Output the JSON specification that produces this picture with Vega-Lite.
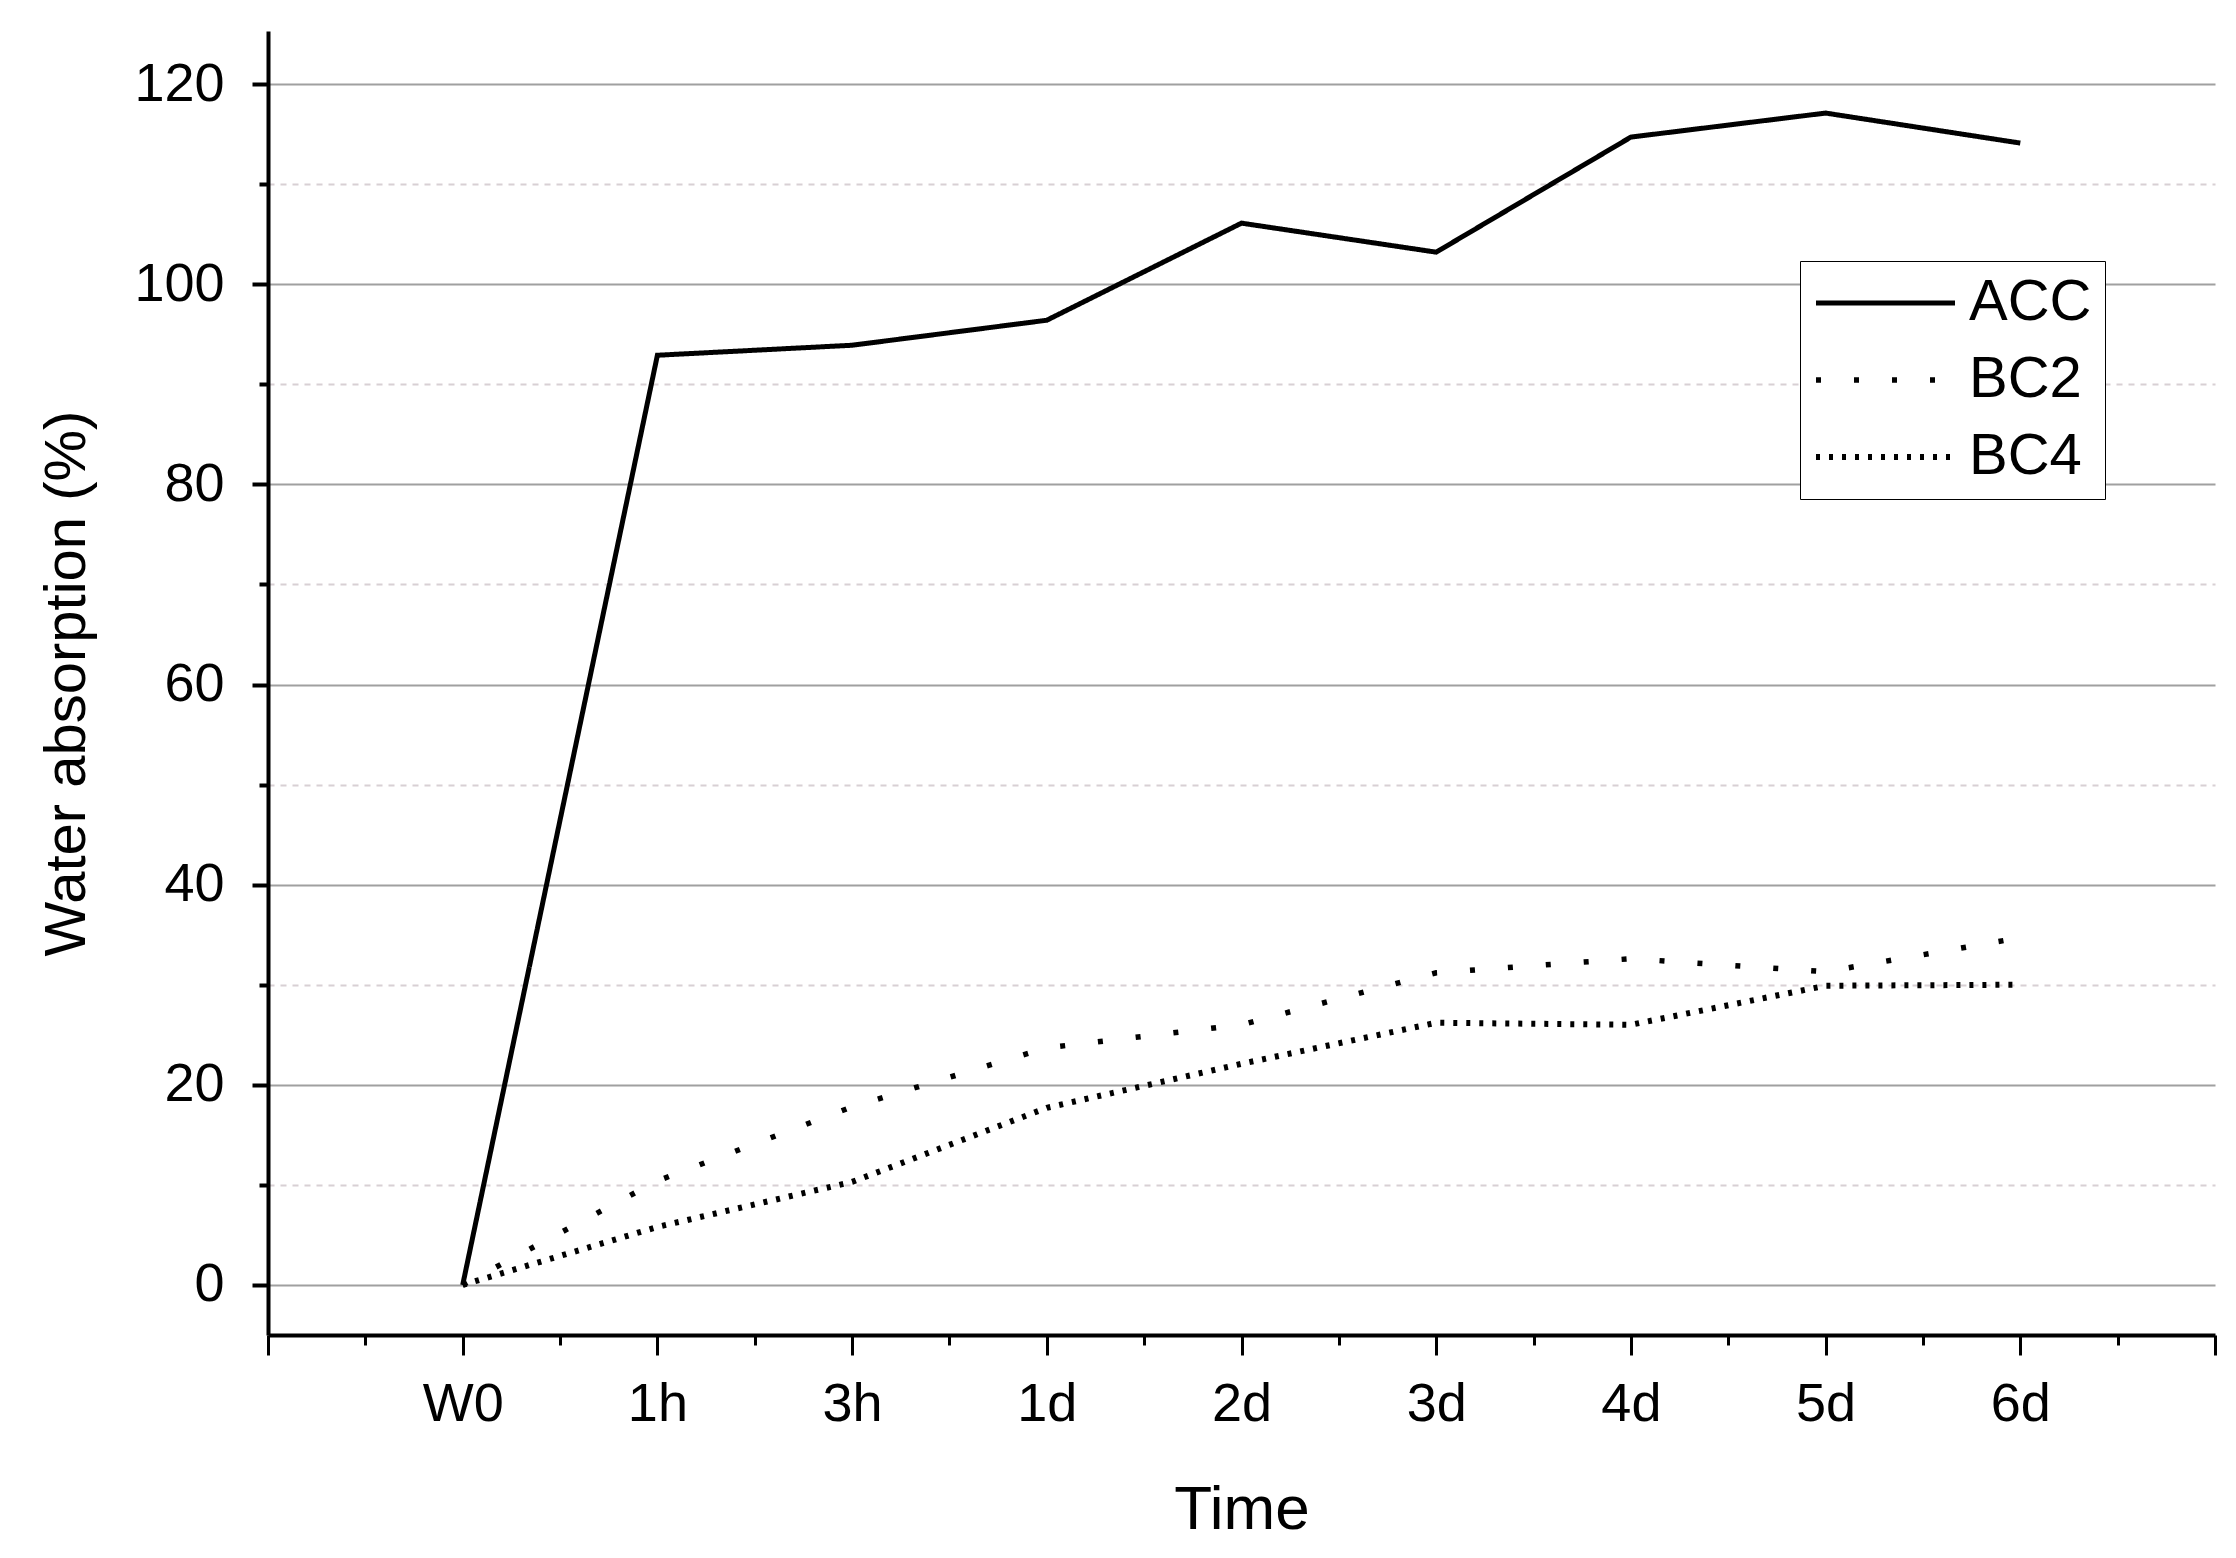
{
  "$schema": "https://vega.github.io/schema/vega-lite/v6.json",
  "width": 1947,
  "height": 1304,
  "autosize": {"type": "none"},
  "padding": {"left": 268, "top": 31, "right": 21, "bottom": 223},
  "background": "white",
  "config": {"view": {"stroke": null}, "font": "Liberation Sans"},
  "data": {
    "values": [
      {"idx": 1, "time": "W0", "series": "ACC", "value": 0},
      {"idx": 2, "time": "1h", "series": "ACC", "value": 92.9},
      {"idx": 3, "time": "3h", "series": "ACC", "value": 93.9},
      {"idx": 4, "time": "1d", "series": "ACC", "value": 96.4},
      {"idx": 5, "time": "2d", "series": "ACC", "value": 106.1},
      {"idx": 6, "time": "3d", "series": "ACC", "value": 103.2},
      {"idx": 7, "time": "4d", "series": "ACC", "value": 114.7},
      {"idx": 8, "time": "5d", "series": "ACC", "value": 117.1},
      {"idx": 9, "time": "6d", "series": "ACC", "value": 114.1},
      {"idx": 1, "time": "W0", "series": "BC2", "value": 0},
      {"idx": 2, "time": "1h", "series": "BC2", "value": 10.4},
      {"idx": 3, "time": "3h", "series": "BC2", "value": 17.8},
      {"idx": 4, "time": "1d", "series": "BC2", "value": 23.7},
      {"idx": 5, "time": "2d", "series": "BC2", "value": 26.0},
      {"idx": 6, "time": "3d", "series": "BC2", "value": 31.2},
      {"idx": 7, "time": "4d", "series": "BC2", "value": 32.6},
      {"idx": 8, "time": "5d", "series": "BC2", "value": 31.3},
      {"idx": 9, "time": "6d", "series": "BC2", "value": 34.7},
      {"idx": 1, "time": "W0", "series": "BC4", "value": 0},
      {"idx": 2, "time": "1h", "series": "BC4", "value": 5.8},
      {"idx": 3, "time": "3h", "series": "BC4", "value": 10.3},
      {"idx": 4, "time": "1d", "series": "BC4", "value": 17.7},
      {"idx": 5, "time": "2d", "series": "BC4", "value": 22.1},
      {"idx": 6, "time": "3d", "series": "BC4", "value": 26.2},
      {"idx": 7, "time": "4d", "series": "BC4", "value": 26.0},
      {"idx": 8, "time": "5d", "series": "BC4", "value": 29.9},
      {"idx": 9, "time": "6d", "series": "BC4", "value": 30.0}
    ]
  },
  "mark": {"type": "line", "color": "black", "strokeJoin": "miter", "strokeCap": "butt"},
  "encoding": {
    "x": {
      "field": "idx",
      "type": "quantitative",
      "scale": {"domain": [0, 10], "nice": false, "zero": false},
      "axis": {
        "title": "Time",
        "titleFontSize": 62,
        "titleFontWeight": "normal",
        "titleColor": "black",
        "titlePadding": 48,
        "values": [0, 0.5, 1, 1.5, 2, 2.5, 3, 3.5, 4, 4.5, 5, 5.5, 6, 6.5, 7, 7.5, 8, 8.5, 9, 9.5, 10],
        "labelExpr": "datum.value % 1 === 0 ? ['', 'W0', '1h', '3h', '1d', '2d', '3d', '4d', '5d', '6d', ''][datum.value] : ''",
        "labelFontSize": 54,
        "labelColor": "black",
        "labelPadding": 22,
        "labelFlush": false,
        "labelOverlap": false,
        "grid": false,
        "domainColor": "black",
        "domainWidth": 4,
        "tickColor": "black",
        "tickWidth": 3,
        "tickSize": {"condition": {"test": "datum.value % 1 === 0", "value": 20}, "value": 10}
      }
    },
    "y": {
      "field": "value",
      "type": "quantitative",
      "scale": {"domain": [-5, 125.3], "nice": false, "zero": false},
      "axis": {
        "title": "Water absorption (%)",
        "titleFontSize": 58,
        "titleFontWeight": "normal",
        "titleColor": "black",
        "titlePadding": 37,
        "values": [0, 10, 20, 30, 40, 50, 60, 70, 80, 90, 100, 110, 120],
        "labelExpr": "datum.value % 20 === 0 ? datum.label : ''",
        "labelFontSize": 54,
        "labelColor": "black",
        "labelPadding": 28,
        "labelFlush": false,
        "labelOverlap": false,
        "grid": true,
        "gridColor": {"condition": {"test": "datum.value % 20 === 0", "value": "#a0a0a0"}, "value": "#d8d0d4"},
        "gridWidth": 2,
        "gridDash": {"condition": {"test": "datum.value % 20 === 0", "value": []}, "value": [6, 6]},
        "domainColor": "black",
        "domainWidth": 4,
        "tickColor": "black",
        "tickWidth": 4,
        "tickSize": {"condition": {"test": "datum.value % 20 === 0", "value": 16}, "value": 9}
      }
    },
    "strokeDash": {
      "field": "series",
      "type": "nominal",
      "scale": {"domain": ["ACC", "BC2", "BC4"], "range": [[1, 0], [5, 33], [4, 9]]},
      "legend": {
        "title": null,
        "orient": "none",
        "legendX": 1532,
        "legendY": 230,
        "strokeColor": "black",
        "fillColor": "white",
        "padding": 13,
        "labelFontSize": 58,
        "labelColor": "black",
        "labelOffset": 11,
        "symbolType": "stroke",
        "symbolSize": 19321,
        "symbolStrokeColor": "black",
        "clipHeight": 58,
        "rowPadding": 19
      }
    },
    "strokeWidth": {
      "field": "series",
      "type": "nominal",
      "scale": {"domain": ["ACC", "BC2", "BC4"], "range": [5, 6, 4]}
    }
  }
}
